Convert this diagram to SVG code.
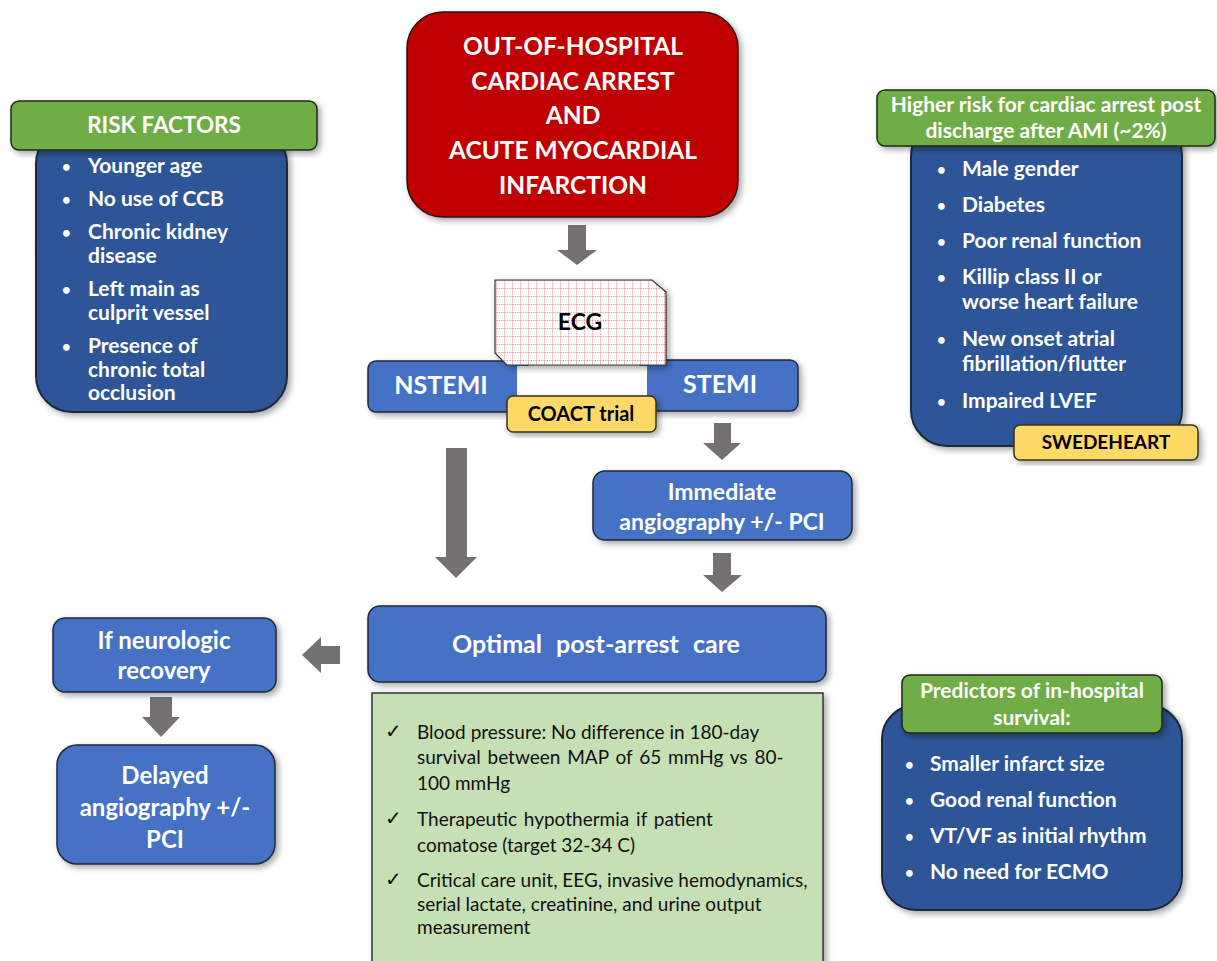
<svg xmlns="http://www.w3.org/2000/svg" width="1217" height="961" viewBox="0 0 1217 961">
<defs>
<filter id="sh" x="-10%" y="-10%" width="125%" height="125%">
<feDropShadow dx="3" dy="3" stdDeviation="3" flood-color="#000" flood-opacity="0.35"/>
</filter>
<pattern id="grid" width="8" height="8" patternUnits="userSpaceOnUse">
<rect width="8" height="8" fill="#ffffff"/>
<path d="M0,0.5 H8 M0.5,0 V8" stroke="#f09a9a" stroke-width="1" stroke-dasharray="1.5,1"/>
</pattern>
<style>
text{font-family:Lato,"Liberation Sans",Arial,sans-serif}
.b{font-weight:bold}
.w{fill:#ffffff}
.k{fill:#000000}
.c{text-anchor:middle}
.dark{fill:#2f5597;stroke:#1f2a3a;stroke-width:2}
.mid{fill:#4472c4;stroke:#1f2a3a;stroke-width:1.5}
.grn{fill:#70ad47;stroke:#1f2a1a;stroke-width:1.5}
.yel{fill:#ffd966;stroke:#3a3320;stroke-width:1.5}
.arr{fill:#767171}
.t21{font-size:21px}
.bl{font-size:15px}
.red{font-size:24.5px}
.bx{font-size:24px}
.chk{font-size:20px;font-family:"DejaVu Sans",sans-serif}
</style>
</defs>

<g id="connectors">
<path class="arr" d="M568,225 H586 V250 H597 L577,265 L557,250 H568 Z"/>
<path class="arr" d="M714,423 H731 V443 H741 L722,460 L703,443 H714 Z"/>
<path class="arr" d="M713,553 H731 V575 H742 L722,592 L703,575 H713 Z"/>
<path class="arr" d="M446,448 H467 V557 H477 L456,578 L435,557 H446 Z"/>
<path class="arr" d="M340,646 V664 H321 V673 L302,655 L321,637 V646 Z"/>
<path class="arr" d="M150,697 H172 V717 H180 L161,737 L142,717 H150 Z"/>
</g>

<g id="ohca">
<rect x="407" y="12" width="331" height="205" rx="36" fill="#c00000" stroke="#2a1010" stroke-width="1.5" filter="url(#sh)"/>
<text class="b w c red" x="573" y="55">OUT-OF-HOSPITAL</text>
<text class="b w c red" x="573" y="90">CARDIAC ARREST</text>
<text class="b w c red" x="573" y="124">AND</text>
<text class="b w c red" x="573" y="159">ACUTE MYOCARDIAL</text>
<text class="b w c red" x="573" y="194">INFARCTION</text>
</g>

<g id="risk-factors">
<rect x="36" y="128" width="251" height="284" rx="36" class="dark" filter="url(#sh)"/>
<rect x="11" y="101" width="306" height="49" rx="8" class="grn" filter="url(#sh)"/>
<text class="b w c" x="164" y="133" font-size="22.5">RISK FACTORS</text>
<g class="b w">
<text class="bl" x="62" y="172">•</text><text class="t21" x="88" y="173">Younger age</text>
<text class="bl" x="62" y="205">•</text><text class="t21" x="88" y="206">No use of CCB</text>
<text class="bl" x="62" y="238">•</text><text class="t21" x="88" y="239">Chronic kidney</text>
<text class="t21" x="88" y="263">disease</text>
<text class="bl" x="62" y="295">•</text><text class="t21" x="88" y="296">Left main as</text>
<text class="t21" x="88" y="320">culprit vessel</text>
<text class="bl" x="62" y="352">•</text><text class="t21" x="88" y="353">Presence of</text>
<text class="t21" x="88" y="377">chronic total</text>
<text class="t21" x="88" y="400">occlusion</text>
</g>
</g>

<g id="higher-risk">
<rect x="911" y="120" width="271" height="326" rx="36" class="dark" filter="url(#sh)"/>
<rect x="877" y="90" width="338" height="56" rx="8" class="grn" filter="url(#sh)"/>
<text class="b w c t21" x="1046" y="112">Higher risk for cardiac arrest post</text>
<text class="b w c t21" x="1046" y="138">discharge after AMI (~2%)</text>
<g class="b w">
<text class="bl" x="937" y="175">•</text><text class="t21" x="962" y="176">Male gender</text>
<text class="bl" x="937" y="211">•</text><text class="t21" x="962" y="212">Diabetes</text>
<text class="bl" x="937" y="247">•</text><text class="t21" x="962" y="248">Poor renal function</text>
<text class="bl" x="937" y="283">•</text><text class="t21" x="962" y="284">Killip class II or</text>
<text class="t21" x="962" y="309">worse heart failure</text>
<text class="bl" x="937" y="345">•</text><text class="t21" x="962" y="346">New onset atrial</text>
<text class="t21" x="962" y="371">fibrillation/flutter</text>
<text class="bl" x="937" y="407">•</text><text class="t21" x="962" y="408">Impaired LVEF</text>
</g>
</g>

<g id="swedeheart">
<rect x="1014" y="425" width="184" height="35" rx="6" class="yel" filter="url(#sh)"/>
<text class="b k c" x="1106" y="449" font-size="19">SWEDEHEART</text>
</g>

<g id="nstemi">
<rect x="368" y="361" width="160" height="51" rx="8" class="mid" filter="url(#sh)"/>
<text class="b w c" x="441" y="394" font-size="25">NSTEMI</text>
</g>

<g id="stemi">
<rect x="640" y="360" width="158" height="51" rx="8" class="mid" filter="url(#sh)"/>
<text class="b w c" x="720" y="393" font-size="25">STEMI</text>
</g>

<g id="ecg">
<rect x="517" y="366" width="130" height="30" fill="#ffffff"/>
<polygon points="495,280 652,280 666,292 666,365 507,365 495,353" fill="url(#grid)" stroke="#333333" stroke-width="1.2" filter="url(#sh)"/>
<text class="b k c" x="580" y="330" font-size="23">ECG</text>
</g>

<g id="coact">
<rect x="507" y="396" width="149" height="36" rx="6" class="yel" filter="url(#sh)"/>
<text class="b k c" x="581" y="421" font-size="20">COACT trial</text>
</g>

<g id="immediate">
<rect x="593" y="471" width="259" height="69" rx="12" class="mid" filter="url(#sh)"/>
<text class="b w c" x="722" y="500" font-size="23">Immediate</text>
<text class="b w c" x="722" y="530" font-size="23">angiography +/- PCI</text>
</g>

<g id="optimal">
<rect x="368" y="606" width="458" height="76" rx="12" class="mid" filter="url(#sh)"/>
<text class="b w c" x="596" y="653" font-size="25" word-spacing="8">Optimal post-arrest care</text>
</g>

<g id="care-details">
<rect x="372" y="693" width="451" height="280" fill="#c5e0b4" stroke="#333333" stroke-width="1.5" filter="url(#sh)"/>
<g fill="#111111" font-size="19">
<text class="chk" x="385" y="738">✓</text><text x="417" y="739">Blood pressure: No difference in 180-day</text>
<text x="417" y="764" word-spacing="2">survival between MAP of 65 mmHg vs 80-</text>
<text x="417" y="790">100 mmHg</text>
<text class="chk" x="385" y="825">✓</text><text x="417" y="826" word-spacing="2">Therapeutic hypothermia  if patient</text>
<text x="417" y="852">comatose (target 32-34 C)</text>
<text class="chk" x="385" y="886">✓</text><text x="417" y="887">Critical care unit, EEG, invasive hemodynamics,</text>
<text x="417" y="911">serial lactate, creatinine, and urine output</text>
<text x="417" y="934">measurement</text>
</g>
</g>

<g id="neuro">
<rect x="53" y="618" width="223" height="74" rx="12" class="mid" filter="url(#sh)"/>
<text class="b w c bx" x="164" y="649">If neurologic</text>
<text class="b w c bx" x="164" y="679">recovery</text>
</g>

<g id="delayed">
<rect x="57" y="745" width="218" height="119" rx="20" class="mid" filter="url(#sh)"/>
<text class="b w c bx" x="165" y="784">Delayed</text>
<text class="b w c bx" x="165" y="816">angiography +/-</text>
<text class="b w c bx" x="165" y="848">PCI</text>
</g>

<g id="predictors">
<rect x="882" y="705" width="300" height="205" rx="34" class="dark" filter="url(#sh)"/>
<rect x="902" y="675" width="260" height="58" rx="8" class="grn" filter="url(#sh)"/>
<text class="b w c t21" x="1032" y="698">Predictors of in-hospital</text>
<text class="b w c t21" x="1032" y="725">survival:</text>
<g class="b w">
<text class="bl" x="905" y="770">•</text><text class="t21" x="930" y="771">Smaller infarct size</text>
<text class="bl" x="905" y="806">•</text><text class="t21" x="930" y="807">Good renal function</text>
<text class="bl" x="905" y="842">•</text><text class="t21" x="930" y="843">VT/VF as initial rhythm</text>
<text class="bl" x="905" y="878">•</text><text class="t21" x="930" y="879">No need for ECMO</text>
</g>
</g>
</svg>
